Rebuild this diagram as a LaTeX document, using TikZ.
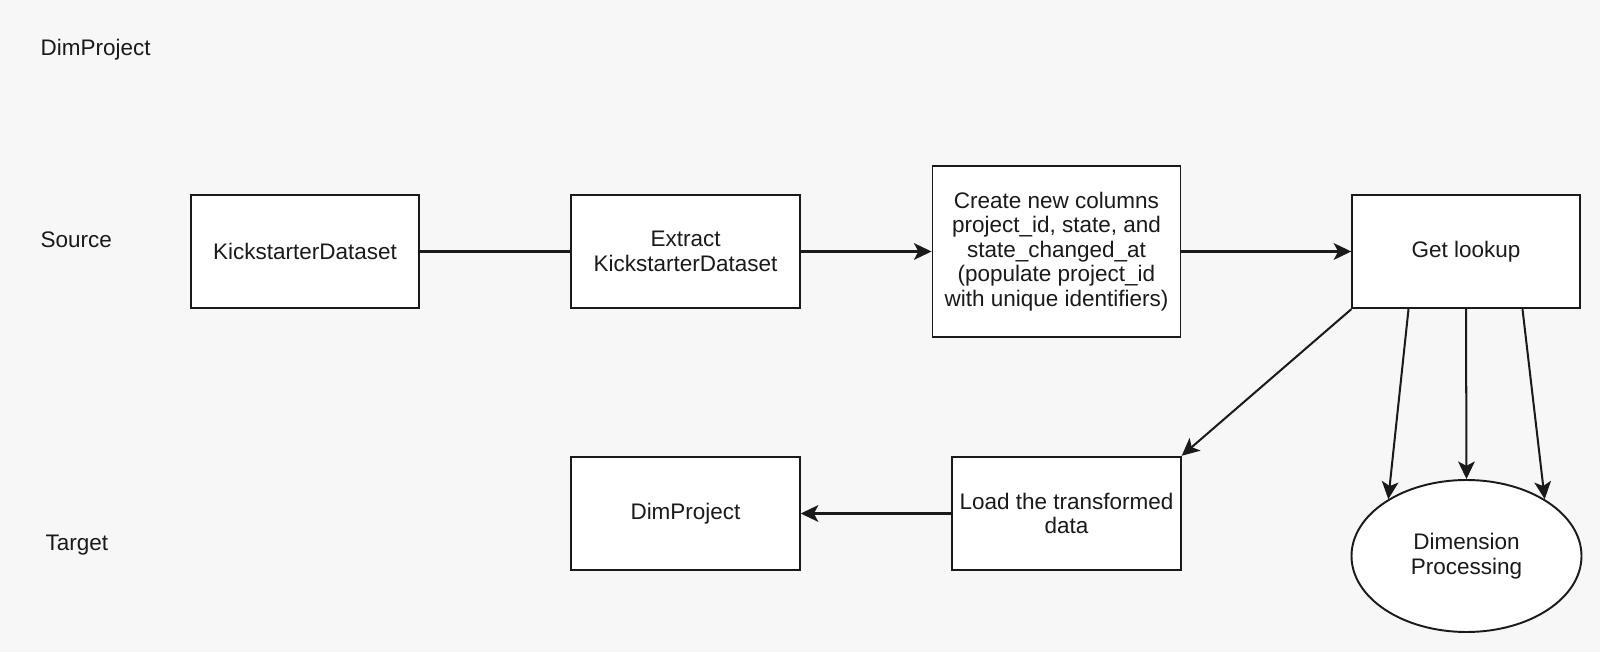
\documentclass[tikz,border=0pt]{standalone}
\usepackage{fontspec}
\setmainfont{Liberation Sans}
\usetikzlibrary{arrows.meta,shapes.geometric,calc}
\definecolor{bgcol}{HTML}{F7F7F7}
\definecolor{inkcol}{HTML}{1A1A1A}
\begin{document}
\begin{tikzpicture}[
  every node/.style={font=\fontsize{12.8}{13.9}\selectfont, text=inkcol},
  box/.style={draw=inkcol, fill=white, line width=1.1pt, minimum width=4.57cm, minimum height=2.27cm, align=center, inner sep=1pt},
  arr/.style={-{Stealth[length=10pt,width=9.5pt,inset=2.5pt]}, line width=1.15pt, draw=inkcol},
  plain/.style={line width=1.15pt, draw=inkcol}]
\fill[bgcol] (0,0) rectangle (32,13.04);
\useasboundingbox (0,0) rectangle (32,13.04);
\node[anchor=west] (lbldim) at (0.69,12.05) {DimProject};
\node[anchor=west] (lblsrc) at (0.69,8.25) {Source};
\node[anchor=west] (lbltgt) at (0.79,2.13) {Target};
\node[box] (kick) at (6.10,8.01) {KickstarterDataset};
\node[box] (extract) at (13.71,8.01) {Extract\\KickstarterDataset};
\node[box, minimum width=4.96cm, minimum height=3.41cm] (create) at (21.13,8.01) {Create new columns\\project\_id, state, and\\state\_changed\_at\\(populate project\_id\\with unique identifiers)};
\node[box, minimum width=4.55cm] (lookup) at (29.32,8.01) {Get lookup};
\node[box] (load) at (21.33,2.77) {Load the transformed\\data};
\node[box] (dimtgt) at (13.71,2.77) {DimProject};
\node[ellipse, draw=inkcol, fill=white, line width=1.1pt, minimum width=4.6cm, minimum height=3.04cm, align=center] (dimproc) at (29.33,1.92) {Dimension\\Processing};
\coordinate (lkl) at ($(lookup.south)+(-1.15,0)$);
\coordinate (lkr) at ($(lookup.south)+(1.13,0)$);
\draw[plain] (kick) -- (extract);
\draw[arr] (extract) -- (create);
\draw[arr] (create) -- (lookup);
\draw[arr] (lookup.south west) -- (load.north east);
\draw[arr] (lkl) -- (dimproc.144);
\draw[arr] (lookup.south) -- (dimproc.north);
\draw[arr] (lkr) -- (dimproc.36);
\draw[arr] (load) -- (dimtgt);
\end{tikzpicture}
\end{document}
